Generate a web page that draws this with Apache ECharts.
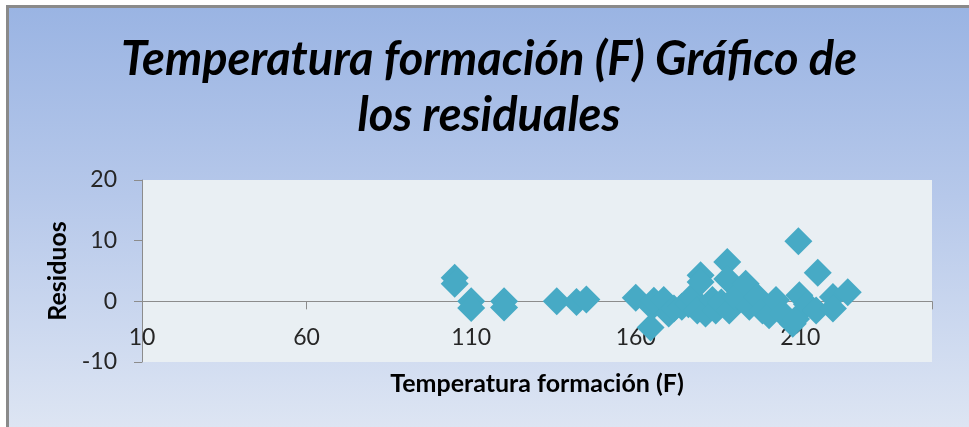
<!DOCTYPE html>
<html lang="es">
<head>
    <meta charset="UTF-8">
    <title>Gráfico de los residuales</title>
    <style>
        html, body { margin: 0; padding: 0; background: #ffffff; }
        #frame {
            position: absolute;
            left: 6px; top: 5px; right: 0; bottom: 0;
            border-left: 3px solid #8a8a8a;
            border-top: 3px solid #8a8a8a;
            background: linear-gradient(to bottom, #9ab4e3 0%, #b6c8ea 45%, #dde5f3 100%);
        }
        #chartContainer { width: 100%; height: 100%; }
    </style>
    <script src="https://cdn.jsdelivr.net/npm/echarts@6/dist/echarts.min.js"></script>
</head>
<body>
<div id="frame"><div id="chartContainer"></div></div>
<script>
    // temperatura de formación (F) and the residual of each observation
    const temperatures = [
        105, 105, 110, 110, 120, 120, 136, 142, 145, 160,
        165, 164.5, 165.5, 168.5, 170, 171.6, 174, 176, 177, 179.7,
        179.7, 178.7, 181.2, 183.3, 184.3, 186, 187.8, 187.8, 188.4, 190.4,
        193.4, 194.5, 197, 198.5, 200.5, 202.6, 204.6, 207.7, 208.7, 209.4,
        209.7, 212, 214.8, 215.3, 219.9, 219.9, 224.4
    ];
    const residuals = [
        3.9, 2.9, 0, -1.1, 0, -1, 0, -0.1, 0.3, 0.6,
        -0.9, -4.3, 0.1, 0.2, -2, -1.2, -0.9, -0.5, 0.7, 4.3,
        3.2, -1.5, -2, 0.2, -1.5, -0.2, 6.5, 3.7, -1.5, 0.7,
        2.9, -0.9, 0.7, -1.5, -2.3, 0.2, -2, -3.7, -2.9, 9.9,
        1.0, -0.5, -1.5, 4.7, 0.7, -1.2, 1.5
    ];
    const xTicks = [10, 60, 110, 160, 210];
    const yTicks = [-10, 0, 10, 20];
    const xMax = 250;

    const points = temperatures.map((t, i) => [t, residuals[i]]);

    var chartDom = document.getElementById('chartContainer');
    var myChart = echarts.init(chartDom);

    const labelFont = 'Lato, "Open Sans", sans-serif';
    const gridTop = 172, gridBottom = 65;

    // the zero line sits 61px above the bottom of the plot; the labels follow it
    const zeroOffset = -61;

    const option = {
        animation: false,
        title: {
            text: 'Temperatura formación (F) Gráfico de\nlos residuales',
            left: 'center',
            top: 19,
            textStyle: {
                fontFamily: labelFont,
                fontSize: 47,
                fontWeight: 'bold',
                fontStyle: 'italic',
                lineHeight: 56,
                color: '#000000',
                align: 'center'
            }
        },
        grid: {
            left: 133,
            right: 37,
            top: gridTop,
            bottom: gridBottom,
            outerBoundsMode: 'none',
            containLabel: false,
            show: true,
            backgroundColor: '#e9eff3',
            borderWidth: 0
        },
        xAxis: [{
            // line and ticks on y = 0
            type: 'value',
            min: xTicks[0],
            max: xMax,
            interval: 50,
            axisLine: { onZero: true, lineStyle: { color: '#8c8c8c', width: 1 } },
            axisTick: { show: true, length: 8, lineStyle: { color: '#8c8c8c' } },
            axisLabel: { show: false },
            splitLine: { show: false }
        }, {
            // labels and name, shifted up to the zero line
            type: 'value',
            position: 'bottom',
            offset: zeroOffset,
            min: xTicks[0],
            max: xMax,
            interval: 50,
            name: 'Temperatura formación (F)',
            nameLocation: 'middle',
            nameGap: 70,
            nameTextStyle: { fontFamily: labelFont, fontSize: 25, fontWeight: 'bold', color: '#000' },
            axisLine: { show: false, onZero: false },
            axisTick: { show: false },
            axisLabel: {
                margin: 25,
                fontFamily: labelFont,
                fontSize: 23,
                color: '#262626',
                showMaxLabel: false
            },
            splitLine: { show: false }
        }],
        yAxis: {
            type: 'value',
            min: yTicks[0],
            max: yTicks[yTicks.length - 1],
            interval: 10,
            name: 'Residuos',
            nameLocation: 'middle',
            nameGap: 70,
            nameTextStyle: { fontFamily: labelFont, fontSize: 25, fontWeight: 'bold', color: '#000' },
            axisLine: { show: true, lineStyle: { color: '#8c8c8c', width: 1 } },
            axisTick: { show: true, length: 8, lineStyle: { color: '#8c8c8c' } },
            axisLabel: {
                margin: 25,
                fontFamily: labelFont,
                fontSize: 23,
                color: '#262626'
            },
            splitLine: { show: false }
        },
        series: [{
            type: 'scatter',
            symbol: 'diamond',
            symbolSize: 28,
            xAxisIndex: 0,
            data: points,
            itemStyle: { color: '#47aac5', opacity: 1 }
        }]
    };

    myChart.setOption(option);
</script>
</body>
</html>
